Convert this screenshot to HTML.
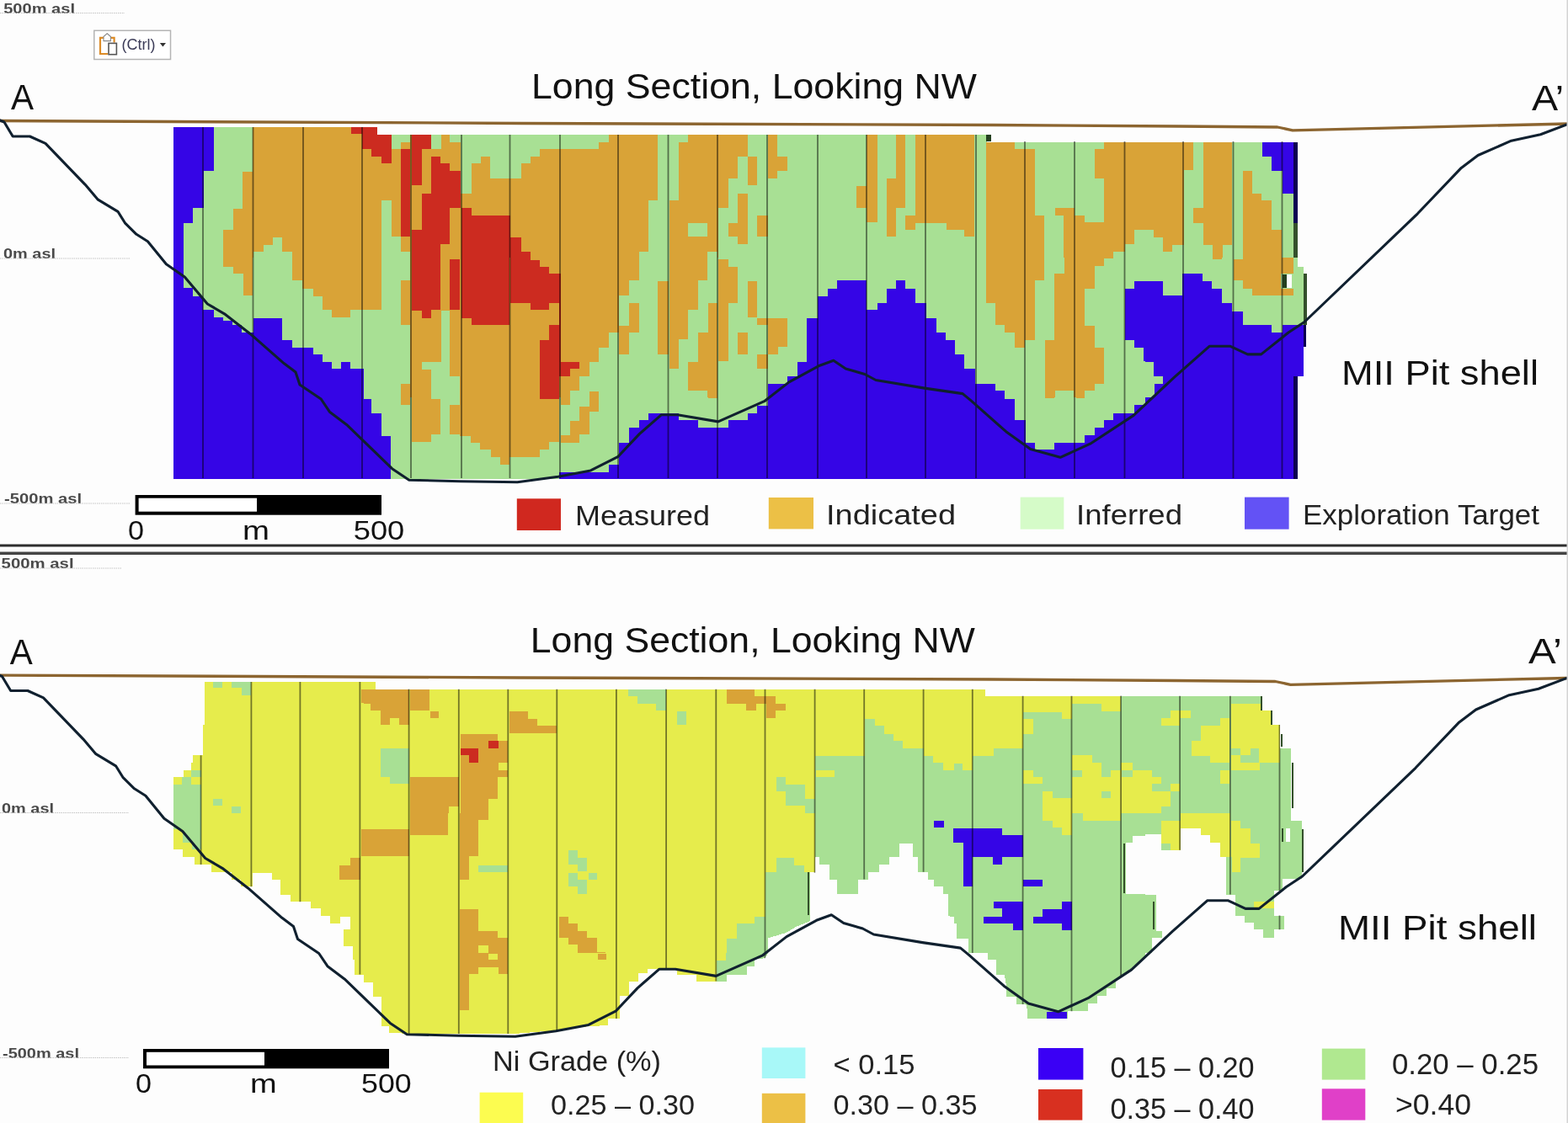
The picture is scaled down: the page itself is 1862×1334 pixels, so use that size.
<!DOCTYPE html>
<html><head><meta charset="utf-8"><title>Long Section, Looking NW</title>
<style>html,body{margin:0;padding:0;background:#fdfdfd;width:1862px;height:1334px;overflow:hidden;position:relative}</style>
</head><body>
<svg width="1862" height="1334" viewBox="0 0 1862 1334" style="position:absolute;left:0;top:0;font-family:'Liberation Sans', Arial, sans-serif"><g id="topmodel" shape-rendering="crispEdges">
<rect x="206" y="151" width="241" height="417.6" fill="#a8e094"/>
<rect x="447" y="160" width="725" height="408.6" fill="#a8e094"/>
<rect x="1172" y="168.6" width="369.3" height="400" fill="#a8e094"/>
<polygon points="206.2,151.2 253.6,151.2 253.6,202.9 241.7,202.9 241.7,247.2 229.3,247.2 229.3,264.6 218.1,264.6 218.1,306 206.2,306" fill="#3505e6"/>
<polygon points="300.3,151.2 432,151.2 432,306 347,306 347,298.9 335.2,298.9 335.2,282 324,282 324,290.8 312.8,290.8 312.8,298.9 300.9,298.9 300.9,306 265.4,306 265.4,273.3 276.6,273.3 276.6,247.8 287.8,247.8 287.8,203.5 300.3,203.5" fill="#d9a337"/>
<polygon points="417.4,151.2 432,151.2 432,177.4 429.9,177.4 429.9,158.7 417.4,158.7" fill="#cc2b20"/>
<polygon points="432,151.2 447.6,151.2 447.6,159.9 664,159.9 664,306 432,306" fill="#d9a337"/>
<polygon points="465,159.9 487.4,159.9 487.4,168.7 476.2,168.7 476.2,176.8 465,176.8" fill="#a8e094"/>
<polygon points="512.4,159.9 523.6,159.9 523.6,176.8 512.4,176.8" fill="#a8e094"/>
<polygon points="534.2,159.9 546.6,159.9 546.6,168.7 534.2,168.7" fill="#a8e094"/>
<polygon points="546.6,159.9 664,159.9 664,176.8 641.3,176.8 641.3,185.5 630.1,185.5 630.1,194.2 618.9,194.2 618.9,212.3 582.1,212.3 582.1,185.5 570.9,185.5 570.9,194.2 559.7,194.2 559.7,229.7 546.6,229.7" fill="#a8e094"/>
<polygon points="453.2,238.4 465,238.4 465,281.4 476.2,281.4 476.2,298.9 487.4,298.9 487.4,306 453.2,306" fill="#a8e094"/>
<polygon points="432,151.2 447.6,151.2 447.6,159.9 465,159.9 465,194.2 453.2,194.2 453.2,185.5 441.3,185.5 441.3,177.4 432,177.4" fill="#cc2b20"/>
<polygon points="476.2,176.8 487.4,176.8 487.4,281.4 476.2,281.4" fill="#cc2b20"/>
<polygon points="488.7,159.9 511.7,159.9 511.7,176.8 500.5,176.8 500.5,220.4 488.7,220.4" fill="#cc2b20"/>
<polygon points="512.4,185.5 523,185.5 523,194.2 534.2,194.2 534.2,202.9 546.6,202.9 546.6,247.2 534.2,247.2 534.2,290.1 523,290.1 523,306 488.7,306 488.7,272.7 500.5,272.7 500.5,229.7 512.4,229.7" fill="#cc2b20"/>
<polygon points="547.9,247.2 559.7,247.2 559.7,255.9 605.8,255.9 605.8,282 618.9,282 618.9,298.9 630.1,298.9 630.1,306 547.9,306" fill="#cc2b20"/>
<polygon points="664,159.9 896,159.9 896,306 664,306" fill="#d9a337"/>
<polygon points="664,159.9 722.6,159.9 722.6,168.7 711.3,168.7 711.3,176.8 664,176.8" fill="#a8e094"/>
<polygon points="781.1,159.9 817.3,159.9 817.3,168.7 806,168.7 806,238.4 794.8,238.4 794.8,306 758.7,306 758.7,298.9 769.9,298.9 769.9,238.4 781.1,238.4" fill="#a8e094"/>
<polygon points="817.3,264.6 840.3,264.6 840.3,281.4 817.3,281.4" fill="#a8e094"/>
<polygon points="840.3,298.9 852.1,298.9 852.1,306 840.3,306" fill="#a8e094"/>
<polygon points="888.3,159.9 896,159.9 896,185.5 888.3,185.5" fill="#a8e094"/>
<polygon points="876.4,185.5 888.3,185.5 888.3,220.4 896,220.4 896,306 853.4,306 853.4,247.2 864.6,247.2 864.6,212.3 876.4,212.3" fill="#a8e094"/>
<polygon points="876.4,229.7 888.3,229.7 888.3,290.1 876.4,290.1" fill="#d9a337"/>
<polygon points="864.6,264.6 876.4,264.6 876.4,281.4 864.6,281.4" fill="#d9a337"/>
<polygon points="896,185.5 898.5,185.5 898.5,220.4 896,220.4" fill="#d9a337"/>
<polygon points="912.2,159.9 923.4,159.9 923.4,185.5 934.6,185.5 934.6,202.9 923.4,202.9 923.4,212.3 912.2,212.3" fill="#d9a337"/>
<polygon points="898.5,255.9 911.6,255.9 911.6,281.4 898.5,281.4" fill="#d9a337"/>
<polygon points="1016.9,221 1028.7,221 1028.7,159.9 1041.8,159.9 1041.8,264 1028.7,264 1028.7,247.2 1016.9,247.2" fill="#d9a337"/>
<polygon points="1064.2,159.9 1074.8,159.9 1074.8,247.2 1064.2,247.2 1064.2,281.4 1053,281.4 1053,212.3 1064.2,212.3" fill="#d9a337"/>
<polygon points="1087.3,159.9 1128,159.9 1128,272.7 1124,272.7 1124,264.6 1087.3,264.6 1087.3,272.7 1075.4,272.7 1075.4,255.9 1087.3,255.9" fill="#d9a337"/>
<polygon points="1128,159.9 1157.3,159.9 1157.3,281.4 1145.4,281.4 1145.4,272.7 1128,272.7" fill="#d9a337"/>
<polygon points="1171,168.7 1204.6,168.7 1204.6,177.4 1228.9,177.4 1228.9,255.9 1240.1,255.9 1240.1,306 1171,306" fill="#d9a337"/>
<polygon points="1252.6,247.2 1276.3,247.2 1276.3,255.9 1288.1,255.9 1288.1,264 1310.5,264 1310.5,212.3 1299.9,212.3 1299.9,177.4 1310.5,177.4 1310.5,168.7 1360,168.7 1360,272.7 1347.3,272.7 1347.3,290.1 1335.5,290.1 1335.5,298.9 1322.4,298.9 1322.4,306 1263.2,306 1263.2,255.9 1252.6,255.9" fill="#d9a337"/>
<polygon points="1171,159.9 1177.2,159.9 1177.2,168 1171,168" fill="#24401f"/>
<polygon points="1360,168.7 1417.3,168.7 1417.3,202.3 1406.1,202.3 1406.1,290.8 1392.4,290.8 1392.4,298.9 1381.2,298.9 1381.2,282 1370,282 1370,272.7 1360,272.7" fill="#d9a337"/>
<polygon points="1428.5,168.7 1463.4,168.7 1463.4,290.8 1451.6,290.8 1451.6,306 1439.7,306 1439.7,290.8 1428.5,290.8 1428.5,264.6 1417.3,264.6 1417.3,247.2 1428.5,247.2" fill="#d9a337"/>
<polygon points="1475.9,202.9 1487.1,202.9 1487.1,229.7 1498.3,229.7 1498.3,238.4 1510.1,238.4 1510.1,272.7 1522,272.7 1522,306 1475.9,306" fill="#d9a337"/>
<polygon points="1498.9,168.7 1535.7,168.7 1535.7,229.7 1522.6,229.7 1522.6,202.9 1510.1,202.9 1510.1,185.5 1498.9,185.5" fill="#3505e6"/>
<polygon points="1535.7,168.7 1541.3,168.7 1541.3,264.6 1535.7,264.6" fill="#0c0052"/>
<polygon points="1535.7,264.6 1540.7,264.6 1540.7,306 1535.7,306" fill="#34502c"/>
<polygon points="265.4,306 299.7,306 299.7,350.9 288.5,350.9 288.5,325.3 276.6,325.3 276.6,316.6 265.4,316.6" fill="#d9a337"/>
<polygon points="347,306 432,306 432,368.3 416.2,368.3 416.2,377 394.4,377 394.4,368.3 383.2,368.3 383.2,351.5 371.9,351.5 371.9,343.4 358.9,343.4 358.9,333.4 347,333.4" fill="#d9a337"/>
<polygon points="206.2,306 218.1,306 218.1,342.1 229.3,342.1 229.3,351.5 241.1,351.5 241.1,368.3 253.6,368.3 253.6,377 264.8,377 264.8,380.8 276,380.8 276,385.7 287.2,385.7 287.2,394.5 300.9,394.5 300.9,377.6 335.2,377.6 335.2,403.8 347,403.8 347,412.5 371.9,412.5 371.9,421.3 383.2,421.3 383.2,430 394.4,430 394.4,438.1 405,438.1 405,430 416.2,430 416.2,438.1 432,438.1 432,472 206.2,472" fill="#3505e6"/>
<polygon points="432,306 664,306 664,472 432,472" fill="#d9a337"/>
<polygon points="453.2,306 487.4,306 487.4,333.4 476.2,333.4 476.2,386.4 487.4,386.4 487.4,455.5 476.2,455.5 476.2,472 432,472 432,368.3 453.2,368.3" fill="#a8e094"/>
<polygon points="523.6,368.9 534.2,368.9 534.2,446.8 546,446.8 546,472 512.4,472 512.4,438.7 500.5,438.7 500.5,430 523.6,430" fill="#a8e094"/>
<polygon points="488.7,306 523,306 523,368.3 511.7,368.3 511.7,377.6 500.5,377.6 500.5,368.9 488.7,368.9" fill="#cc2b20"/>
<polygon points="534.2,307.9 546,307.9 546,368.3 534.2,368.3" fill="#cc2b20"/>
<polygon points="547.9,306 605.2,306 605.2,386.4 559.7,386.4 559.7,378.3 547.9,378.3" fill="#cc2b20"/>
<polygon points="606.4,306 630.1,306 630.1,308.5 641.3,308.5 641.3,316.6 651.9,316.6 651.9,324.7 664,324.7 664,360.2 651.9,360.2 651.9,368.3 630.1,368.3 630.1,360.2 606.4,360.2" fill="#cc2b20"/>
<polygon points="651.9,386.4 664,386.4 664,472 641.3,472 641.3,403.8 651.9,403.8" fill="#cc2b20"/>
<polygon points="664,306 734.6,306 734.6,395.1 722.6,395.1 722.6,412.5 711.3,412.5 711.3,430 699.5,430 699.5,446.8 688.3,446.8 688.3,464.2 677.1,464.2 677.1,472 664,472" fill="#d9a337"/>
<polygon points="699.5,464.9 711.3,464.9 711.3,472 699.5,472" fill="#d9a337"/>
<polygon points="734.6,306 758.7,306 758.7,332.8 746.9,332.8 746.9,350.9 734.6,350.9" fill="#d9a337"/>
<polygon points="746.9,359.6 758.7,359.6 758.7,395.1 746.9,395.1 746.9,420.6 734.6,420.6 734.6,387 746.9,387" fill="#d9a337"/>
<polygon points="781.1,334 793.6,334 793.6,420.6 781.1,420.6" fill="#d9a337"/>
<polygon points="794.8,306 839.7,306 839.7,332.8 828.5,332.8 828.5,368.3 817.3,368.3 817.3,403.2 806,403.2 806,438.1 794.8,438.1" fill="#d9a337"/>
<polygon points="840.9,359.6 851.5,359.6 851.5,472 840.3,472 840.3,464.2 817.3,464.2 817.3,430 828.5,430 828.5,395.1 840.9,395.1" fill="#d9a337"/>
<polygon points="853.4,307.9 864.6,307.9 864.6,316.6 876.4,316.6 876.4,359.6 864.6,359.6 864.6,429.3 853.4,429.3" fill="#d9a337"/>
<polygon points="888.3,334 896,334 896,377 888.3,377" fill="#d9a337"/>
<polygon points="876.4,395.1 887.6,395.1 887.6,420.6 876.4,420.6" fill="#d9a337"/>
<polygon points="664,324.7 665.9,324.7 665.9,446.8 664,446.8" fill="#cc2b20"/>
<polygon points="665.9,430 688.3,430 688.3,438.1 677.1,438.1 677.1,446.8 665.9,446.8" fill="#cc2b20"/>
<polygon points="896,334 898.5,334 898.5,377 896,377" fill="#d9a337"/>
<polygon points="898.5,378.3 934.6,378.3 934.6,411.9 924,411.9 924,420.6 912.2,420.6 912.2,386.4 898.5,386.4" fill="#d9a337"/>
<polygon points="898.5,421.3 911.6,421.3 911.6,438.1 898.5,438.1" fill="#d9a337"/>
<polygon points="911.6,456.1 935.2,456.1 935.2,447.4 946.5,447.4 946.5,430 958.3,430 958.3,378.3 970.8,378.3 970.8,351.5 982.6,351.5 982.6,342.8 994.4,342.8 994.4,333.4 1029.3,333.4 1029.3,368.3 1041.8,368.3 1041.8,359.6 1053,359.6 1053,342.8 1064.2,342.8 1064.2,333.4 1075.4,333.4 1075.4,342.8 1086.6,342.8 1086.6,359.6 1099.7,359.6 1099.7,378.3 1111.5,378.3 1111.5,395.1 1123.4,395.1 1123.4,403.8 1128,403.8 1128,472 911.6,472" fill="#3505e6"/>
<polygon points="1171,306 1240.1,306 1240.1,332.8 1228.9,332.8 1228.9,403.8 1217.1,403.8 1217.1,412.5 1204.6,412.5 1204.6,395.1 1193.4,395.1 1193.4,386.4 1182.2,386.4 1182.2,359.6 1171,359.6" fill="#d9a337"/>
<polygon points="1263.8,306 1321.7,306 1321.7,307.2 1310.5,307.2 1310.5,316 1299.9,316 1299.9,342.8 1288.1,342.8 1288.1,387 1299.9,387 1299.9,412.5 1310.5,412.5 1310.5,455.5 1299.9,455.5 1299.9,464.2 1288.1,464.2 1288.1,472 1275,472 1275,464.2 1252.6,464.2 1252.6,472 1240.8,472 1240.8,403.8 1252,403.8 1252,325.3 1263.8,325.3" fill="#d9a337"/>
<polygon points="1128,403.8 1134.2,403.8 1134.2,421.3 1145.4,421.3 1145.4,438.1 1157.9,438.1 1157.9,455.5 1181.6,455.5 1181.6,464.2 1192.8,464.2 1192.8,472 1128,472" fill="#3505e6"/>
<polygon points="1335.5,343.4 1347.3,343.4 1347.3,334 1360,334 1360,429.3 1357.9,429.3 1357.9,412.5 1347.3,412.5 1347.3,403.8 1335.5,403.8" fill="#3505e6"/>
<polygon points="1535.7,316.6 1547.5,316.6 1547.5,386.4 1535.7,386.4" fill="#a8e094"/>
<polygon points="1439.7,306 1451,306 1451,307.9 1439.7,307.9" fill="#d9a337"/>
<polygon points="1475.9,306 1535.7,306 1535.7,324.7 1520.7,324.7 1520.7,342.8 1535.7,342.8 1535.7,350.9 1487.1,350.9 1487.1,342.8 1475.9,342.8 1475.9,332.8 1464.7,332.8 1464.7,307.9 1475.9,307.9" fill="#d9a337"/>
<polygon points="1527.6,325.9 1534.4,325.9 1534.4,342.1 1527.6,342.1" fill="#fdfdfd"/>
<polygon points="1523.2,325.9 1527.6,325.9 1527.6,342.1 1523.2,342.1" fill="#24401f"/>
<polygon points="1360,334 1381.2,334 1381.2,350.9 1404.2,350.9 1404.2,325.3 1427.9,325.3 1427.9,334 1439.1,334 1439.1,342.8 1451,342.8 1451,359.6 1463.4,359.6 1463.4,369.5 1475.9,369.5 1475.9,386.4 1510.1,386.4 1510.1,395.1 1522.6,395.1 1522.6,386.4 1548.1,386.4 1548.1,446.8 1540.7,446.8 1540.7,472 1370.6,472 1370.6,456.1 1381.2,456.1 1381.2,446.8 1370,446.8 1370,430 1360,430" fill="#3505e6"/>
<polygon points="1547.5,324.7 1551.9,324.7 1551.9,385.7 1547.5,385.7" fill="#34502c"/>
<polygon points="1547.5,385.7 1550.6,385.7 1550.6,411.9 1547.5,411.9" fill="#0c0052"/>
<polygon points="1535.7,446.8 1540.7,446.8 1540.7,472 1535.7,472" fill="#0c0052"/>
<polygon points="206.2,472 432,472 432,568.6 206.2,568.6" fill="#3505e6"/>
<polygon points="432,473.9 441.3,473.9 441.3,490.7 452.6,490.7 452.6,517.5 464.4,517.5 464.4,568.6 432,568.6" fill="#3505e6"/>
<polygon points="476.2,472 486.8,472 486.8,481.3 476.2,481.3" fill="#d9a337"/>
<polygon points="488.7,472 511.7,472 511.7,473.9 523,473.9 523,515.6 511.7,515.6 511.7,525 488.7,525" fill="#d9a337"/>
<polygon points="534.2,481.3 546,481.3 546,472 664,472 664,525 651.9,525 651.9,534.3 640.7,534.3 640.7,543 605.2,543 605.2,551.7 594,551.7 594,543 582.8,543 582.8,534.3 570.3,534.3 570.3,525.6 559.1,525.6 559.1,517.5 546,517.5 546,515.6 534.2,515.6" fill="#d9a337"/>
<polygon points="641.3,472 664,472 664,473.9 641.3,473.9" fill="#cc2b20"/>
<polygon points="665.9,472 677.1,472 677.1,481.3 665.9,481.3" fill="#d9a337"/>
<polygon points="700.1,472 710.7,472 710.7,489.4 699.5,489.4 699.5,516.2 688.3,516.2 688.3,525.6 665.9,525.6 665.9,516.9 677.1,516.9 677.1,500 688.3,500 688.3,482.6 700.1,482.6" fill="#d9a337"/>
<polygon points="840.9,472 851.5,472 851.5,473.2 840.9,473.2" fill="#d9a337"/>
<polygon points="664,560.5 722.6,560.5 722.6,551.7 735,551.7 735,525.6 746.9,525.6 746.9,508.1 758.7,508.1 758.7,499.4 769.9,499.4 769.9,490.7 806,490.7 806,499.4 828.5,499.4 828.5,508.1 864.6,508.1 864.6,499.4 888.3,499.4 888.3,490.7 896,490.7 896,568.6 664,568.6" fill="#3505e6"/>
<polygon points="912.2,472 1128,472 1128,568.6 896,568.6 896,490.7 898.5,490.7 898.5,482 912.2,482" fill="#3505e6"/>
<polygon points="1240.8,472 1252,472 1252,473.2 1240.8,473.2" fill="#d9a337"/>
<polygon points="1277.5,472 1288.1,472 1288.1,473.2 1277.5,473.2" fill="#d9a337"/>
<polygon points="1128,472 1193.4,472 1193.4,473.9 1204.6,473.9 1204.6,498.8 1217.7,498.8 1217.7,525.6 1228.9,525.6 1228.9,533.7 1252,533.7 1252,525.6 1288.1,525.6 1288.1,516.9 1299.9,516.9 1299.9,508.1 1310.5,508.1 1310.5,499.4 1321.7,499.4 1321.7,490.7 1347.3,490.7 1347.3,481.3 1360,481.3 1360,568.6 1128,568.6" fill="#3505e6"/>
<polygon points="1360,472 1535.7,472 1535.7,568.6 1360,568.6" fill="#3505e6"/>
<polygon points="1535.7,472 1541.3,472 1541.3,568.6 1535.7,568.6" fill="#0c0052"/>
</g>
<line x1="241" y1="151" x2="241" y2="568" stroke="#000" stroke-opacity="0.5" stroke-width="1.8"/>
<line x1="300.5" y1="151" x2="300.5" y2="568" stroke="#000" stroke-opacity="0.5" stroke-width="1.8"/>
<line x1="360" y1="151" x2="360" y2="568" stroke="#000" stroke-opacity="0.5" stroke-width="1.8"/>
<line x1="430" y1="151" x2="430" y2="568" stroke="#000" stroke-opacity="0.5" stroke-width="1.8"/>
<line x1="488" y1="160" x2="488" y2="568" stroke="#000" stroke-opacity="0.5" stroke-width="1.8"/>
<line x1="548" y1="160" x2="548" y2="568" stroke="#000" stroke-opacity="0.5" stroke-width="1.8"/>
<line x1="605.5" y1="160" x2="605.5" y2="568" stroke="#000" stroke-opacity="0.5" stroke-width="1.8"/>
<line x1="665" y1="160" x2="665" y2="568" stroke="#000" stroke-opacity="0.5" stroke-width="1.8"/>
<line x1="734" y1="160" x2="734" y2="568" stroke="#000" stroke-opacity="0.5" stroke-width="1.8"/>
<line x1="793.5" y1="160" x2="793.5" y2="568" stroke="#000" stroke-opacity="0.5" stroke-width="1.8"/>
<line x1="852" y1="160" x2="852" y2="568" stroke="#000" stroke-opacity="0.5" stroke-width="1.8"/>
<line x1="911" y1="160" x2="911" y2="568" stroke="#000" stroke-opacity="0.5" stroke-width="1.8"/>
<line x1="971" y1="160" x2="971" y2="568" stroke="#000" stroke-opacity="0.5" stroke-width="1.8"/>
<line x1="1029" y1="160" x2="1029" y2="568" stroke="#000" stroke-opacity="0.5" stroke-width="1.8"/>
<line x1="1099" y1="160" x2="1099" y2="568" stroke="#000" stroke-opacity="0.5" stroke-width="1.8"/>
<line x1="1159" y1="160" x2="1159" y2="568" stroke="#000" stroke-opacity="0.5" stroke-width="1.8"/>
<line x1="1217" y1="168" x2="1217" y2="568" stroke="#000" stroke-opacity="0.5" stroke-width="1.8"/>
<line x1="1276" y1="168" x2="1276" y2="568" stroke="#000" stroke-opacity="0.5" stroke-width="1.8"/>
<line x1="1335.5" y1="168" x2="1335.5" y2="568" stroke="#000" stroke-opacity="0.5" stroke-width="1.8"/>
<line x1="1405" y1="168" x2="1405" y2="568" stroke="#000" stroke-opacity="0.5" stroke-width="1.8"/>
<line x1="1464.5" y1="168" x2="1464.5" y2="568" stroke="#000" stroke-opacity="0.5" stroke-width="1.8"/>
<line x1="1522.5" y1="168" x2="1522.5" y2="568" stroke="#000" stroke-opacity="0.5" stroke-width="1.8"/>
<g id="botmodel" shape-rendering="crispEdges">
<polygon points="243,810 432,810 432,966 206.2,966 206.2,923.3 218.1,923.3 218.1,914.6 227.4,914.6 227.4,905.9 229.3,905.9 229.3,897.2 240.5,897.2 240.5,861.1 243,861.1" fill="#e6ec4c"/>
<polygon points="253,810 263.5,810 263.5,817.4 253,817.4" fill="#a8e094"/>
<polygon points="274.8,810 298.4,810 298.4,826.2 286.6,826.2 286.6,817.4 274.8,817.4" fill="#a8e094"/>
<polygon points="227.4,914.6 238.6,914.6 238.6,923.3 227.4,923.3" fill="#a8e094"/>
<polygon points="216.2,923.3 227.4,923.3 227.4,932.1 216.2,932.1" fill="#a8e094"/>
<polygon points="206.2,932.1 238.6,932.1 238.6,966 206.2,966" fill="#a8e094"/>
<polygon points="253,948.9 263.5,948.9 263.5,957 253,957" fill="#a8e094"/>
<polygon points="274.8,958.2 286,958.2 286,966 274.8,966" fill="#a8e094"/>
<polygon points="429.3,818.7 432,818.7 432,834.9 429.3,834.9" fill="#d9a337"/>
<polygon points="432,810 445.7,810 445.7,818.7 664,818.7 664,966 432,966" fill="#e6ec4c"/>
<polygon points="432,818.7 485.6,818.7 485.6,861.1 474.4,861.1 474.4,853 462.5,853 462.5,861.1 451.9,861.1 451.9,844.2 440.1,844.2 440.1,836.1 432,836.1" fill="#d9a337"/>
<polygon points="486.8,818.7 509.9,818.7 509.9,844.2 486.8,844.2" fill="#d9a337"/>
<polygon points="510.5,844.9 520.5,844.9 520.5,853 510.5,853" fill="#d9a337"/>
<polygon points="487.4,923.3 544.8,923.3 544.8,957.6 532.9,957.6 532.9,966 487.4,966" fill="#d9a337"/>
<polygon points="546.6,871.6 590.9,871.6 590.9,880.4 602.7,880.4 602.7,905.9 592.1,905.9 592.1,914.6 602.7,914.6 602.7,922.7 590.9,922.7 590.9,948.9 579.6,948.9 579.6,966 546.6,966" fill="#d9a337"/>
<polygon points="604.6,844.9 627,844.9 627,853.6 638.2,853.6 638.2,862.3 661.3,862.3 661.3,871 604.6,871" fill="#d9a337"/>
<polygon points="546.6,888.5 568.4,888.5 568.4,905.9 557.2,905.9 557.2,897.2 546.6,897.2" fill="#cc2b20"/>
<polygon points="579.6,879.7 591.5,879.7 591.5,888.5 579.6,888.5" fill="#cc2b20"/>
<polygon points="451.9,889.1 485.6,889.1 485.6,930.8 463.1,930.8 463.1,922.7 451.9,922.7" fill="#a8e094"/>
<polygon points="664,818.7 896,818.7 896,966 664,966" fill="#e6ec4c"/>
<polygon points="745.6,818.7 791.1,818.7 791.1,843.6 779.3,843.6 779.3,835.5 756.8,835.5 756.8,826.8 745.6,826.8" fill="#a8e094"/>
<polygon points="804.2,844.9 814.8,844.9 814.8,861.1 804.2,861.1" fill="#a8e094"/>
<polygon points="862.7,818.7 896,818.7 896,843.6 885.8,843.6 885.8,835.5 862.7,835.5" fill="#d9a337"/>
<polygon points="896,818.7 1128,818.7 1128,966 896,966" fill="#e6ec4c"/>
<polygon points="896,827.4 920.9,827.4 920.9,836.1 932.8,836.1 932.8,844.2 920.9,844.2 920.9,853 909.7,853 909.7,836.1 897.9,836.1 897.9,843.6 896,843.6" fill="#d9a337"/>
<polygon points="968.3,897.8 1026.8,897.8 1026.8,853.6 1038.7,853.6 1038.7,862.3 1049.9,862.3 1049.9,871.6 1061.1,871.6 1061.1,880.4 1072.3,880.4 1072.3,889.1 1096.6,889.1 1096.6,897.8 1108.4,897.8 1108.4,905.9 1120.3,905.9 1120.3,914.6 1128,914.6 1128,966 955.8,966 955.8,957 932.8,957 932.8,939.5 922.2,939.5 922.2,923.3 932.8,923.3 932.8,932.1 955.8,932.1 955.8,948.9 968.3,948.9" fill="#a8e094"/>
<polygon points="968.9,914.6 991.3,914.6 991.3,922.7 968.9,922.7" fill="#e6ec4c"/>
<polygon points="1128,818.7 1170.4,818.7 1170.4,826.8 1360,826.8 1360,966 1128,966" fill="#e6ec4c"/>
<polygon points="1128,914.6 1155.4,914.6 1155.4,897.8 1179.7,897.8 1179.7,889.1 1214.6,889.1 1214.6,845.5 1260.7,845.5 1260.7,853.6 1272.5,853.6 1272.5,836.1 1308,836.1 1308,844.9 1330.5,844.9 1330.5,826.8 1360,826.8 1360,914.6 1344.8,914.6 1344.8,905.9 1330.5,905.9 1330.5,914.6 1318.6,914.6 1318.6,922.7 1308,922.7 1308,905.9 1297.4,905.9 1297.4,897.2 1272.5,897.2 1272.5,948.3 1249.5,948.3 1249.5,940.2 1237.6,940.2 1237.6,966 1128,966" fill="#a8e094"/>
<polygon points="1133,906.5 1143,906.5 1143,914.6 1133,914.6" fill="#a8e094"/>
<polygon points="1215.2,853.6 1227.1,853.6 1227.1,871.6 1215.2,871.6" fill="#e6ec4c"/>
<polygon points="1215.2,914.6 1227.1,914.6 1227.1,922.7 1237.6,922.7 1237.6,931.4 1215.2,931.4" fill="#e6ec4c"/>
<polygon points="1272.5,914.6 1285,914.6 1285,922.7 1272.5,922.7" fill="#a8e094"/>
<polygon points="1332.3,914.6 1344.8,914.6 1344.8,922.7 1332.3,922.7" fill="#a8e094"/>
<polygon points="1308,940.2 1318.6,940.2 1318.6,948.3 1308,948.3" fill="#a8e094"/>
<polygon points="1360,826.8 1497.7,826.8 1497.7,843.6 1508.9,843.6 1508.9,861.1 1520.1,861.1 1520.1,888.5 1533.2,888.5 1533.2,966 1360,966" fill="#a8e094"/>
<polygon points="1389.9,844.2 1414.2,844.2 1414.2,853 1401.1,853 1401.1,861.7 1379.3,861.7 1379.3,853 1389.9,853" fill="#e6ec4c"/>
<polygon points="1462.2,835.5 1497.7,835.5 1497.7,843.6 1508.9,843.6 1508.9,861.1 1519.5,861.1 1519.5,905.9 1495.8,905.9 1495.8,914.6 1462.2,914.6" fill="#e6ec4c"/>
<polygon points="1462.2,889.1 1472.8,889.1 1472.8,897.2 1462.2,897.2" fill="#a8e094"/>
<polygon points="1484.6,889.1 1495.2,889.1 1495.2,905.9 1473.4,905.9 1473.4,897.2 1484.6,897.2" fill="#a8e094"/>
<polygon points="1426,861.7 1449.1,861.7 1449.1,853 1460.3,853 1460.3,905.9 1437.2,905.9 1437.2,897.8 1414.8,897.8 1414.8,880.4 1426,880.4" fill="#e6ec4c"/>
<polygon points="1448.5,914.6 1460.3,914.6 1460.3,931.4 1448.5,931.4" fill="#e6ec4c"/>
<polygon points="1360,914.6 1367.5,914.6 1367.5,966 1360,966" fill="#e6ec4c"/>
<polygon points="1367.5,923.3 1378.7,923.3 1378.7,931.4 1367.5,931.4" fill="#e6ec4c"/>
<polygon points="1367.5,940.2 1389.9,940.2 1389.9,957.6 1378.7,957.6 1378.7,966 1367.5,966" fill="#e6ec4c"/>
<polygon points="1389.9,931.4 1401.1,931.4 1401.1,940.2 1389.9,940.2" fill="#e6ec4c"/>
<polygon points="1497.3,826.8 1499.3,826.8 1499.3,843.6 1497.3,843.6" fill="#33502a"/>
<polygon points="1508.8,843.6 1510.8,843.6 1510.8,861.1 1508.8,861.1" fill="#33502a"/>
<polygon points="1521,871.6 1523,871.6 1523,887.2 1521,887.2" fill="#33502a"/>
<polygon points="1534.4,905.9 1536.4,905.9 1536.4,959.5 1534.4,959.5" fill="#33502a"/>
<polygon points="206.2,966 432,966 432,1132 418.7,1132 418.7,1123.6 408.1,1123.6 408.1,1104.3 416.2,1104.3 416.2,1088.7 404.3,1088.7 404.3,1096.8 391.9,1096.8 391.9,1088.1 380.7,1088.1 380.7,1079.4 369.4,1079.4 369.4,1071.3 344.5,1071.3 344.5,1062.6 333.3,1062.6 333.3,1045.1 323.3,1045.1 323.3,1037 299.7,1037 299.7,1053.2 286,1053.2 286,1044.5 274.8,1044.5 274.8,1036.4 251.1,1036.4 251.1,1027.1 231.1,1027.1 231.1,1018.3 217.4,1018.3 217.4,1009 206.2,1009" fill="#e6ec4c"/>
<polygon points="206.2,966 238.6,966 238.6,1009 228,1009 228,1000.9 216.8,1000.9 216.8,984.7 206.2,984.7" fill="#a8e094"/>
<polygon points="429.3,984.7 432,984.7 432,1017.1 429.3,1017.1" fill="#d9a337"/>
<polygon points="403.1,1028.3 416.2,1028.3 416.2,1019 428,1019 428,1044.5 403.1,1044.5" fill="#d9a337"/>
<polygon points="432,966 664,966 664,1132 432,1132" fill="#e6ec4c"/>
<polygon points="432,984.7 485.6,984.7 485.6,1017.1 432,1017.1" fill="#d9a337"/>
<polygon points="486.8,966 531.7,966 531.7,991.5 486.8,991.5" fill="#d9a337"/>
<polygon points="546,966 579.6,966 579.6,974.1 567.8,974.1 567.8,1017.1 556.6,1017.1 556.6,1044.5 546,1044.5" fill="#d9a337"/>
<polygon points="546,1080 567.8,1080 567.8,1105.5 590.9,1105.5 590.9,1114.3 602.7,1114.3 602.7,1132 580.3,1132 580.3,1123 567.8,1123 567.8,1132 546,1132" fill="#d9a337"/>
<polygon points="568.4,1027.7 602.7,1027.7 602.7,1035.8 568.4,1035.8" fill="#a8e094"/>
<polygon points="664,966 896,966 896,1132 664,1132" fill="#e6ec4c"/>
<polygon points="675.2,1010.2 685.8,1010.2 685.8,1019 697,1019 697,1034.5 685.8,1034.5 685.8,1027.1 675.2,1027.1" fill="#a8e094"/>
<polygon points="675.2,1037 685.8,1037 685.8,1045.1 697,1045.1 697,1061.9 685.8,1061.9 685.8,1053.2 675.2,1053.2" fill="#a8e094"/>
<polygon points="698.9,1037 708.9,1037 708.9,1045.1 698.9,1045.1" fill="#a8e094"/>
<polygon points="875.2,1096.8 896,1096.8 896,1132 862.7,1132 862.7,1114.9 875.2,1114.9" fill="#a8e094"/>
<polygon points="664,1088.7 674.6,1088.7 674.6,1096.8 685.8,1096.8 685.8,1105.5 697,1105.5 697,1114.3 708.9,1114.3 708.9,1130.5 718.8,1130.5 718.8,1132 686.4,1132 686.4,1122.4 675.2,1122.4 675.2,1114.3 664,1114.3" fill="#d9a337"/>
<polygon points="896,966 1128,966 1128,1087.5 1125.9,1087.5 1125.9,1061.9 1120.3,1061.9 1120.3,1053.2 1109.1,1053.2 1109.1,1044.5 1101.6,1044.5 1101.6,1035.8 1090.4,1035.8 1090.4,1017.7 1083.5,1017.7 1083.5,1001.5 1067.9,1001.5 1067.9,1017.7 1055.5,1017.7 1055.5,1027.1 1044.3,1027.1 1044.3,1035.8 1030.6,1035.8 1030.6,1044.5 1019.3,1044.5 1019.3,1061.9 994.4,1061.9 994.4,1044.5 984.5,1044.5 984.5,1027.1 973.2,1027.1 973.2,1018.3 968.3,1018.3 968.3,1036.4 962,1036.4 962,1094.3 945.8,1100.6 933.4,1108 912.2,1114.3 912.2,1132 896,1132" fill="#a8e094"/>
<polygon points="896,966 968.3,966 968.3,1036.4 955.2,1036.4 955.2,1027.7 943.3,1027.7 943.3,1019 922.2,1019 922.2,1036.4 908.5,1036.4 908.5,1088.7 896,1088.7" fill="#e6ec4c"/>
<polygon points="1109.1,975.3 1120.9,975.3 1120.9,983.4 1109.1,983.4" fill="#3505e6"/>
<polygon points="958.5,1036.4 960.5,1036.4 960.5,1086.9 958.5,1086.9" fill="#33502a"/>
<polygon points="1128,966 1360,966 1360,992.8 1344.8,992.8 1344.8,1000.9 1337.3,1000.9 1337.3,1061.9 1360,1061.9 1360,1132 1149.8,1132 1149.8,1114.9 1136.1,1114.9 1136.1,1096.8 1133,1096.8 1133,1088.7 1128,1088.7" fill="#a8e094"/>
<polygon points="1237.6,966 1272.5,966 1272.5,992.2 1260.7,992.2 1260.7,983.4 1249.5,983.4 1249.5,974.7 1237.6,974.7" fill="#e6ec4c"/>
<polygon points="1285.6,966 1331.1,966 1331.1,974.7 1285.6,974.7" fill="#e6ec4c"/>
<polygon points="1132.4,984.1 1190.3,984.1 1190.3,992.2 1214.6,992.2 1214.6,1017.7 1190.3,1017.7 1190.3,1027.1 1179.1,1027.1 1179.1,1018.3 1155.4,1018.3 1155.4,1053.2 1143.6,1053.2 1143.6,1000.9 1132.4,1000.9" fill="#3505e6"/>
<polygon points="1215.2,1045.1 1237.6,1045.1 1237.6,1053.2 1215.2,1053.2" fill="#3505e6"/>
<polygon points="1179.7,1071.3 1214.6,1071.3 1214.6,1104.9 1202.8,1104.9 1202.8,1096.8 1167.9,1096.8 1167.9,1088.7 1190.3,1088.7 1190.3,1079.4 1179.7,1079.4" fill="#3505e6"/>
<polygon points="1261.3,1071.3 1273.2,1071.3 1273.2,1104.9 1261.3,1104.9 1261.3,1096.8 1227.1,1096.8 1227.1,1088.7 1238.3,1088.7 1238.3,1080 1261.3,1080" fill="#3505e6"/>
<polygon points="1333.5,1002.1 1335.5,1002.1 1335.5,1061.3 1333.5,1061.3" fill="#33502a"/>
<polygon points="1360,966 1533.2,966 1533.2,974.7 1545.6,974.7 1545.6,1043.9 1523.2,1043.9 1523.2,1058.2 1512.6,1058.2 1512.6,1087.5 1524.5,1087.5 1524.5,1104.3 1513.3,1104.3 1513.3,1114.3 1500.2,1114.3 1500.2,1104.3 1489,1104.3 1489,1096.2 1477.7,1096.2 1477.7,1087.5 1467.2,1087.5 1467.2,1062.6 1455.9,1062.6 1455.9,1018.3 1448.5,1018.3 1448.5,1000.9 1437.2,1000.9 1437.2,992.2 1426,992.2 1426,984.1 1402.4,984.1 1402.4,1009.6 1378.7,1009.6 1378.7,990.9 1360,990.9" fill="#a8e094"/>
<polygon points="1360,1063.2 1372.5,1063.2 1372.5,1105.5 1379.9,1105.5 1379.9,1114.3 1367.5,1114.3 1367.5,1132 1360,1132" fill="#a8e094"/>
<polygon points="1378.7,975.3 1402.4,975.3 1402.4,1009.6 1389.9,1009.6 1389.9,1002.1 1378.7,1002.1" fill="#e6ec4c"/>
<polygon points="1402.4,966 1460.9,966 1460.9,1018.3 1448.5,1018.3 1448.5,1000.9 1437.2,1000.9 1437.2,992.2 1426,992.2 1426,984.1 1402.4,984.1" fill="#e6ec4c"/>
<polygon points="1462.2,975.3 1473.4,975.3 1473.4,984.1 1484.6,984.1 1484.6,1001.5 1495.8,1001.5 1495.8,1019 1473.4,1019 1473.4,1035.8 1463.4,1035.8 1463.4,1018.3 1462.2,1018.3" fill="#e6ec4c"/>
<polygon points="1489,1071.3 1512.6,1071.3 1512.6,1079.4 1489,1079.4" fill="#e6ec4c"/>
<polygon points="1527,984.1 1531.9,984.1 1531.9,1000.3 1527,1000.3" fill="#fdfdfd"/>
<polygon points="1521.9,984.1 1523.9,984.1 1523.9,999.6 1521.9,999.6" fill="#33502a"/>
<polygon points="1545.6,984.7 1547.6,984.7 1547.6,1035.8 1545.6,1035.8" fill="#33502a"/>
<polygon points="1369,1071.3 1371,1071.3 1371,1104.3 1369,1104.3" fill="#33502a"/>
<polygon points="418.7,1132 432,1132 432,1157.5 421.2,1157.5 421.2,1139.5 418.7,1139.5" fill="#e6ec4c"/>
<polygon points="432,1132 664,1132 664,1223.6 612.7,1227.9 484.3,1227.9 461.9,1226.7 461.9,1219.2 452.6,1219.2 452.6,1184.3 443.2,1184.3 443.2,1166.9 432,1166.9" fill="#e6ec4c"/>
<polygon points="546,1132 602.7,1132 602.7,1156.9 592.1,1156.9 592.1,1149.4 567.8,1149.4 567.8,1156.9 556.6,1156.9 556.6,1199.9 546,1199.9" fill="#d9a337"/>
<polygon points="580.3,1133.2 590.9,1133.2 590.9,1140.1 580.3,1140.1" fill="#e6ec4c"/>
<polygon points="664,1132 862.1,1132 862.1,1140.7 850.9,1140.7 850.9,1165.6 826.6,1165.6 826.6,1158.2 804.2,1158.2 804.2,1150.7 769.3,1150.7 769.3,1155.7 758.1,1155.7 758.1,1165.6 746.9,1165.6 746.9,1183.1 735.6,1183.1 735.6,1209.9 721.9,1209.9 721.9,1218 698.9,1219.2 664,1223" fill="#e6ec4c"/>
<polygon points="850.9,1140.7 862.1,1140.7 862.1,1132 896,1132 896,1148.2 887,1148.2 887,1158.2 863.4,1158.2 863.4,1165.6 850.9,1165.6" fill="#a8e094"/>
<polygon points="709.5,1133.2 720.1,1133.2 720.1,1139.5 709.5,1139.5" fill="#d9a337"/>
<polygon points="896,1132 912.2,1132 908.5,1138.2 896,1139.5" fill="#a8e094"/>
<polygon points="1172.9,1132 1360,1132 1360,1137 1348.5,1145.7 1334.8,1156.9 1324.9,1164.4 1324.9,1174.4 1314.3,1174.4 1314.3,1183.1 1303.1,1183.1 1303.1,1191.8 1291.8,1191.8 1291.8,1201.2 1267.5,1201.2 1267.5,1209.9 1220.2,1209.9 1220.2,1201.2 1218.3,1193.1 1207.1,1193.1 1207.1,1184.3 1195.3,1184.3 1195.3,1173.1 1192.8,1158.2 1182.8,1158.2 1182.8,1139.5 1172.9,1139.5" fill="#a8e094"/>
<polygon points="1242.6,1201.8 1266.9,1201.8 1266.9,1209.9 1242.6,1209.9" fill="#3505e6"/>
</g>
<clipPath id="botclip"><polygon points="243,810 432,810 432,966 206.2,966 206.2,923.3 218.1,923.3 218.1,914.6 227.4,914.6 227.4,905.9 229.3,905.9 229.3,897.2 240.5,897.2 240.5,861.1 243,861.1"/><polygon points="253,810 263.5,810 263.5,817.4 253,817.4"/><polygon points="274.8,810 298.4,810 298.4,826.2 286.6,826.2 286.6,817.4 274.8,817.4"/><polygon points="227.4,914.6 238.6,914.6 238.6,923.3 227.4,923.3"/><polygon points="216.2,923.3 227.4,923.3 227.4,932.1 216.2,932.1"/><polygon points="206.2,932.1 238.6,932.1 238.6,966 206.2,966"/><polygon points="253,948.9 263.5,948.9 263.5,957 253,957"/><polygon points="274.8,958.2 286,958.2 286,966 274.8,966"/><polygon points="429.3,818.7 432,818.7 432,834.9 429.3,834.9"/><polygon points="432,810 445.7,810 445.7,818.7 664,818.7 664,966 432,966"/><polygon points="432,818.7 485.6,818.7 485.6,861.1 474.4,861.1 474.4,853 462.5,853 462.5,861.1 451.9,861.1 451.9,844.2 440.1,844.2 440.1,836.1 432,836.1"/><polygon points="486.8,818.7 509.9,818.7 509.9,844.2 486.8,844.2"/><polygon points="510.5,844.9 520.5,844.9 520.5,853 510.5,853"/><polygon points="487.4,923.3 544.8,923.3 544.8,957.6 532.9,957.6 532.9,966 487.4,966"/><polygon points="546.6,871.6 590.9,871.6 590.9,880.4 602.7,880.4 602.7,905.9 592.1,905.9 592.1,914.6 602.7,914.6 602.7,922.7 590.9,922.7 590.9,948.9 579.6,948.9 579.6,966 546.6,966"/><polygon points="604.6,844.9 627,844.9 627,853.6 638.2,853.6 638.2,862.3 661.3,862.3 661.3,871 604.6,871"/><polygon points="546.6,888.5 568.4,888.5 568.4,905.9 557.2,905.9 557.2,897.2 546.6,897.2"/><polygon points="579.6,879.7 591.5,879.7 591.5,888.5 579.6,888.5"/><polygon points="451.9,889.1 485.6,889.1 485.6,930.8 463.1,930.8 463.1,922.7 451.9,922.7"/><polygon points="664,818.7 896,818.7 896,966 664,966"/><polygon points="745.6,818.7 791.1,818.7 791.1,843.6 779.3,843.6 779.3,835.5 756.8,835.5 756.8,826.8 745.6,826.8"/><polygon points="804.2,844.9 814.8,844.9 814.8,861.1 804.2,861.1"/><polygon points="862.7,818.7 896,818.7 896,843.6 885.8,843.6 885.8,835.5 862.7,835.5"/><polygon points="896,818.7 1128,818.7 1128,966 896,966"/><polygon points="896,827.4 920.9,827.4 920.9,836.1 932.8,836.1 932.8,844.2 920.9,844.2 920.9,853 909.7,853 909.7,836.1 897.9,836.1 897.9,843.6 896,843.6"/><polygon points="968.3,897.8 1026.8,897.8 1026.8,853.6 1038.7,853.6 1038.7,862.3 1049.9,862.3 1049.9,871.6 1061.1,871.6 1061.1,880.4 1072.3,880.4 1072.3,889.1 1096.6,889.1 1096.6,897.8 1108.4,897.8 1108.4,905.9 1120.3,905.9 1120.3,914.6 1128,914.6 1128,966 955.8,966 955.8,957 932.8,957 932.8,939.5 922.2,939.5 922.2,923.3 932.8,923.3 932.8,932.1 955.8,932.1 955.8,948.9 968.3,948.9"/><polygon points="968.9,914.6 991.3,914.6 991.3,922.7 968.9,922.7"/><polygon points="1128,818.7 1170.4,818.7 1170.4,826.8 1360,826.8 1360,966 1128,966"/><polygon points="1128,914.6 1155.4,914.6 1155.4,897.8 1179.7,897.8 1179.7,889.1 1214.6,889.1 1214.6,845.5 1260.7,845.5 1260.7,853.6 1272.5,853.6 1272.5,836.1 1308,836.1 1308,844.9 1330.5,844.9 1330.5,826.8 1360,826.8 1360,914.6 1344.8,914.6 1344.8,905.9 1330.5,905.9 1330.5,914.6 1318.6,914.6 1318.6,922.7 1308,922.7 1308,905.9 1297.4,905.9 1297.4,897.2 1272.5,897.2 1272.5,948.3 1249.5,948.3 1249.5,940.2 1237.6,940.2 1237.6,966 1128,966"/><polygon points="1133,906.5 1143,906.5 1143,914.6 1133,914.6"/><polygon points="1215.2,853.6 1227.1,853.6 1227.1,871.6 1215.2,871.6"/><polygon points="1215.2,914.6 1227.1,914.6 1227.1,922.7 1237.6,922.7 1237.6,931.4 1215.2,931.4"/><polygon points="1272.5,914.6 1285,914.6 1285,922.7 1272.5,922.7"/><polygon points="1332.3,914.6 1344.8,914.6 1344.8,922.7 1332.3,922.7"/><polygon points="1308,940.2 1318.6,940.2 1318.6,948.3 1308,948.3"/><polygon points="1360,826.8 1497.7,826.8 1497.7,843.6 1508.9,843.6 1508.9,861.1 1520.1,861.1 1520.1,888.5 1533.2,888.5 1533.2,966 1360,966"/><polygon points="1389.9,844.2 1414.2,844.2 1414.2,853 1401.1,853 1401.1,861.7 1379.3,861.7 1379.3,853 1389.9,853"/><polygon points="1462.2,835.5 1497.7,835.5 1497.7,843.6 1508.9,843.6 1508.9,861.1 1519.5,861.1 1519.5,905.9 1495.8,905.9 1495.8,914.6 1462.2,914.6"/><polygon points="1462.2,889.1 1472.8,889.1 1472.8,897.2 1462.2,897.2"/><polygon points="1484.6,889.1 1495.2,889.1 1495.2,905.9 1473.4,905.9 1473.4,897.2 1484.6,897.2"/><polygon points="1426,861.7 1449.1,861.7 1449.1,853 1460.3,853 1460.3,905.9 1437.2,905.9 1437.2,897.8 1414.8,897.8 1414.8,880.4 1426,880.4"/><polygon points="1448.5,914.6 1460.3,914.6 1460.3,931.4 1448.5,931.4"/><polygon points="1360,914.6 1367.5,914.6 1367.5,966 1360,966"/><polygon points="1367.5,923.3 1378.7,923.3 1378.7,931.4 1367.5,931.4"/><polygon points="1367.5,940.2 1389.9,940.2 1389.9,957.6 1378.7,957.6 1378.7,966 1367.5,966"/><polygon points="1389.9,931.4 1401.1,931.4 1401.1,940.2 1389.9,940.2"/><polygon points="206.2,966 432,966 432,1132 418.7,1132 418.7,1123.6 408.1,1123.6 408.1,1104.3 416.2,1104.3 416.2,1088.7 404.3,1088.7 404.3,1096.8 391.9,1096.8 391.9,1088.1 380.7,1088.1 380.7,1079.4 369.4,1079.4 369.4,1071.3 344.5,1071.3 344.5,1062.6 333.3,1062.6 333.3,1045.1 323.3,1045.1 323.3,1037 299.7,1037 299.7,1053.2 286,1053.2 286,1044.5 274.8,1044.5 274.8,1036.4 251.1,1036.4 251.1,1027.1 231.1,1027.1 231.1,1018.3 217.4,1018.3 217.4,1009 206.2,1009"/><polygon points="206.2,966 238.6,966 238.6,1009 228,1009 228,1000.9 216.8,1000.9 216.8,984.7 206.2,984.7"/><polygon points="429.3,984.7 432,984.7 432,1017.1 429.3,1017.1"/><polygon points="403.1,1028.3 416.2,1028.3 416.2,1019 428,1019 428,1044.5 403.1,1044.5"/><polygon points="432,966 664,966 664,1132 432,1132"/><polygon points="432,984.7 485.6,984.7 485.6,1017.1 432,1017.1"/><polygon points="486.8,966 531.7,966 531.7,991.5 486.8,991.5"/><polygon points="546,966 579.6,966 579.6,974.1 567.8,974.1 567.8,1017.1 556.6,1017.1 556.6,1044.5 546,1044.5"/><polygon points="546,1080 567.8,1080 567.8,1105.5 590.9,1105.5 590.9,1114.3 602.7,1114.3 602.7,1132 580.3,1132 580.3,1123 567.8,1123 567.8,1132 546,1132"/><polygon points="568.4,1027.7 602.7,1027.7 602.7,1035.8 568.4,1035.8"/><polygon points="664,966 896,966 896,1132 664,1132"/><polygon points="675.2,1010.2 685.8,1010.2 685.8,1019 697,1019 697,1034.5 685.8,1034.5 685.8,1027.1 675.2,1027.1"/><polygon points="675.2,1037 685.8,1037 685.8,1045.1 697,1045.1 697,1061.9 685.8,1061.9 685.8,1053.2 675.2,1053.2"/><polygon points="698.9,1037 708.9,1037 708.9,1045.1 698.9,1045.1"/><polygon points="875.2,1096.8 896,1096.8 896,1132 862.7,1132 862.7,1114.9 875.2,1114.9"/><polygon points="664,1088.7 674.6,1088.7 674.6,1096.8 685.8,1096.8 685.8,1105.5 697,1105.5 697,1114.3 708.9,1114.3 708.9,1130.5 718.8,1130.5 718.8,1132 686.4,1132 686.4,1122.4 675.2,1122.4 675.2,1114.3 664,1114.3"/><polygon points="896,966 1128,966 1128,1087.5 1125.9,1087.5 1125.9,1061.9 1120.3,1061.9 1120.3,1053.2 1109.1,1053.2 1109.1,1044.5 1101.6,1044.5 1101.6,1035.8 1090.4,1035.8 1090.4,1017.7 1083.5,1017.7 1083.5,1001.5 1067.9,1001.5 1067.9,1017.7 1055.5,1017.7 1055.5,1027.1 1044.3,1027.1 1044.3,1035.8 1030.6,1035.8 1030.6,1044.5 1019.3,1044.5 1019.3,1061.9 994.4,1061.9 994.4,1044.5 984.5,1044.5 984.5,1027.1 973.2,1027.1 973.2,1018.3 968.3,1018.3 968.3,1036.4 962,1036.4 962,1094.3 945.8,1100.6 933.4,1108 912.2,1114.3 912.2,1132 896,1132"/><polygon points="896,966 968.3,966 968.3,1036.4 955.2,1036.4 955.2,1027.7 943.3,1027.7 943.3,1019 922.2,1019 922.2,1036.4 908.5,1036.4 908.5,1088.7 896,1088.7"/><polygon points="1109.1,975.3 1120.9,975.3 1120.9,983.4 1109.1,983.4"/><polygon points="1128,966 1360,966 1360,992.8 1344.8,992.8 1344.8,1000.9 1337.3,1000.9 1337.3,1061.9 1360,1061.9 1360,1132 1149.8,1132 1149.8,1114.9 1136.1,1114.9 1136.1,1096.8 1133,1096.8 1133,1088.7 1128,1088.7"/><polygon points="1237.6,966 1272.5,966 1272.5,992.2 1260.7,992.2 1260.7,983.4 1249.5,983.4 1249.5,974.7 1237.6,974.7"/><polygon points="1285.6,966 1331.1,966 1331.1,974.7 1285.6,974.7"/><polygon points="1132.4,984.1 1190.3,984.1 1190.3,992.2 1214.6,992.2 1214.6,1017.7 1190.3,1017.7 1190.3,1027.1 1179.1,1027.1 1179.1,1018.3 1155.4,1018.3 1155.4,1053.2 1143.6,1053.2 1143.6,1000.9 1132.4,1000.9"/><polygon points="1215.2,1045.1 1237.6,1045.1 1237.6,1053.2 1215.2,1053.2"/><polygon points="1179.7,1071.3 1214.6,1071.3 1214.6,1104.9 1202.8,1104.9 1202.8,1096.8 1167.9,1096.8 1167.9,1088.7 1190.3,1088.7 1190.3,1079.4 1179.7,1079.4"/><polygon points="1261.3,1071.3 1273.2,1071.3 1273.2,1104.9 1261.3,1104.9 1261.3,1096.8 1227.1,1096.8 1227.1,1088.7 1238.3,1088.7 1238.3,1080 1261.3,1080"/><polygon points="1360,966 1533.2,966 1533.2,974.7 1545.6,974.7 1545.6,1043.9 1523.2,1043.9 1523.2,1058.2 1512.6,1058.2 1512.6,1087.5 1524.5,1087.5 1524.5,1104.3 1513.3,1104.3 1513.3,1114.3 1500.2,1114.3 1500.2,1104.3 1489,1104.3 1489,1096.2 1477.7,1096.2 1477.7,1087.5 1467.2,1087.5 1467.2,1062.6 1455.9,1062.6 1455.9,1018.3 1448.5,1018.3 1448.5,1000.9 1437.2,1000.9 1437.2,992.2 1426,992.2 1426,984.1 1402.4,984.1 1402.4,1009.6 1378.7,1009.6 1378.7,990.9 1360,990.9"/><polygon points="1360,1063.2 1372.5,1063.2 1372.5,1105.5 1379.9,1105.5 1379.9,1114.3 1367.5,1114.3 1367.5,1132 1360,1132"/><polygon points="1378.7,975.3 1402.4,975.3 1402.4,1009.6 1389.9,1009.6 1389.9,1002.1 1378.7,1002.1"/><polygon points="1402.4,966 1460.9,966 1460.9,1018.3 1448.5,1018.3 1448.5,1000.9 1437.2,1000.9 1437.2,992.2 1426,992.2 1426,984.1 1402.4,984.1"/><polygon points="1462.2,975.3 1473.4,975.3 1473.4,984.1 1484.6,984.1 1484.6,1001.5 1495.8,1001.5 1495.8,1019 1473.4,1019 1473.4,1035.8 1463.4,1035.8 1463.4,1018.3 1462.2,1018.3"/><polygon points="1489,1071.3 1512.6,1071.3 1512.6,1079.4 1489,1079.4"/><polygon points="418.7,1132 432,1132 432,1157.5 421.2,1157.5 421.2,1139.5 418.7,1139.5"/><polygon points="432,1132 664,1132 664,1223.6 612.7,1227.9 484.3,1227.9 461.9,1226.7 461.9,1219.2 452.6,1219.2 452.6,1184.3 443.2,1184.3 443.2,1166.9 432,1166.9"/><polygon points="546,1132 602.7,1132 602.7,1156.9 592.1,1156.9 592.1,1149.4 567.8,1149.4 567.8,1156.9 556.6,1156.9 556.6,1199.9 546,1199.9"/><polygon points="580.3,1133.2 590.9,1133.2 590.9,1140.1 580.3,1140.1"/><polygon points="664,1132 862.1,1132 862.1,1140.7 850.9,1140.7 850.9,1165.6 826.6,1165.6 826.6,1158.2 804.2,1158.2 804.2,1150.7 769.3,1150.7 769.3,1155.7 758.1,1155.7 758.1,1165.6 746.9,1165.6 746.9,1183.1 735.6,1183.1 735.6,1209.9 721.9,1209.9 721.9,1218 698.9,1219.2 664,1223"/><polygon points="850.9,1140.7 862.1,1140.7 862.1,1132 896,1132 896,1148.2 887,1148.2 887,1158.2 863.4,1158.2 863.4,1165.6 850.9,1165.6"/><polygon points="709.5,1133.2 720.1,1133.2 720.1,1139.5 709.5,1139.5"/><polygon points="896,1132 912.2,1132 908.5,1138.2 896,1139.5"/><polygon points="1172.9,1132 1360,1132 1360,1137 1348.5,1145.7 1334.8,1156.9 1324.9,1164.4 1324.9,1174.4 1314.3,1174.4 1314.3,1183.1 1303.1,1183.1 1303.1,1191.8 1291.8,1191.8 1291.8,1201.2 1267.5,1201.2 1267.5,1209.9 1220.2,1209.9 1220.2,1201.2 1218.3,1193.1 1207.1,1193.1 1207.1,1184.3 1195.3,1184.3 1195.3,1173.1 1192.8,1158.2 1182.8,1158.2 1182.8,1139.5 1172.9,1139.5"/><polygon points="1242.6,1201.8 1266.9,1201.8 1266.9,1209.9 1242.6,1209.9"/></clipPath>
<g clip-path="url(#botclip)">
<line x1="238.6" y1="805" x2="238.6" y2="1235" stroke="#000" stroke-opacity="0.5" stroke-width="1.8"/>
<line x1="298.4" y1="805" x2="298.4" y2="1235" stroke="#000" stroke-opacity="0.5" stroke-width="1.8"/>
<line x1="356.4" y1="805" x2="356.4" y2="1235" stroke="#000" stroke-opacity="0.5" stroke-width="1.8"/>
<line x1="427.4" y1="805" x2="427.4" y2="1235" stroke="#000" stroke-opacity="0.5" stroke-width="1.8"/>
<line x1="485.6" y1="805" x2="485.6" y2="1235" stroke="#000" stroke-opacity="0.5" stroke-width="1.8"/>
<line x1="544.8" y1="805" x2="544.8" y2="1235" stroke="#000" stroke-opacity="0.5" stroke-width="1.8"/>
<line x1="603.3" y1="805" x2="603.3" y2="1235" stroke="#000" stroke-opacity="0.5" stroke-width="1.8"/>
<line x1="661.3" y1="805" x2="661.3" y2="1235" stroke="#000" stroke-opacity="0.5" stroke-width="1.8"/>
<line x1="731.9" y1="805" x2="731.9" y2="1235" stroke="#000" stroke-opacity="0.5" stroke-width="1.8"/>
<line x1="791.1" y1="805" x2="791.1" y2="1235" stroke="#000" stroke-opacity="0.5" stroke-width="1.8"/>
<line x1="850.3" y1="805" x2="850.3" y2="1235" stroke="#000" stroke-opacity="0.5" stroke-width="1.8"/>
<line x1="908.5" y1="805" x2="908.5" y2="1235" stroke="#000" stroke-opacity="0.5" stroke-width="1.8"/>
<line x1="967.6" y1="805" x2="967.6" y2="1235" stroke="#000" stroke-opacity="0.5" stroke-width="1.8"/>
<line x1="1026.2" y1="805" x2="1026.2" y2="1235" stroke="#000" stroke-opacity="0.5" stroke-width="1.8"/>
<line x1="1096.6" y1="805" x2="1096.6" y2="1235" stroke="#000" stroke-opacity="0.5" stroke-width="1.8"/>
<line x1="1154.8" y1="805" x2="1154.8" y2="1235" stroke="#000" stroke-opacity="0.5" stroke-width="1.8"/>
<line x1="1214.6" y1="805" x2="1214.6" y2="1235" stroke="#000" stroke-opacity="0.5" stroke-width="1.8"/>
<line x1="1272.5" y1="805" x2="1272.5" y2="1235" stroke="#000" stroke-opacity="0.5" stroke-width="1.8"/>
<line x1="1331.1" y1="805" x2="1331.1" y2="1235" stroke="#000" stroke-opacity="0.5" stroke-width="1.8"/>
<line x1="1401.1" y1="805" x2="1401.1" y2="1235" stroke="#000" stroke-opacity="0.5" stroke-width="1.8"/>
<line x1="1460.9" y1="805" x2="1460.9" y2="1235" stroke="#000" stroke-opacity="0.5" stroke-width="1.8"/>
<line x1="1519.5" y1="805" x2="1519.5" y2="1235" stroke="#000" stroke-opacity="0.5" stroke-width="1.8"/>
</g>
<polyline points="-5,143.5 620,146.5 1180,148.5 1400,150 1517,151 1535,154.8 1862,147 1870,146.8" fill="none" stroke="#8c6530" stroke-width="3.3" stroke-linejoin="round"/>
<polyline points="-5,141 5,145 15.2,162 35.4,162 54,170.4 101.2,219.3 116.4,237.2 140,251.3 148.4,264.8 162,278.3 175.4,286.8 197.4,313.8 219.3,329 246.3,361 266.5,372.8 297,396.4 337.4,431.8 351,442 356,457 381.2,474 391.4,489.2 411.6,504.4 465.6,556.7 485.8,570.2 546.7,571.7 614.4,572.7 662.7,566.3 701.4,558.9 733.6,542.7 759.4,515.4 785.2,492.8 804.5,492.8 852.8,500.9 907.6,476.7 936.6,454.1 972,434.8 989.8,428.3 1004.3,438 1026.9,444.5 1040,451.5 1098,461.1 1143.1,467.6 1152.8,475.6 1194.7,512.7 1223.7,533.6 1259.1,543.3 1294.6,527.2 1346.2,493.4 1394.5,448.2 1436.4,411.2 1460.6,411.2 1481.5,420.9 1497.6,420.9 1530,395 1549,382.5 1683.4,253.8 1735.3,199.4 1755.1,184.5 1794.7,167.2 1829.4,159.8 1862,147.4 1870,145" fill="none" stroke="#10202f" stroke-width="3.1" stroke-linejoin="round"/>
<g transform="translate(-2.5,658.5)">
<polyline points="-5,143.5 620,146.5 1180,148.5 1400,150 1517,151 1535,154.8 1862,147 1870,146.8" fill="none" stroke="#8c6530" stroke-width="3.3" stroke-linejoin="round"/>
<polyline points="-5,141 5,145 15.2,162 35.4,162 54,170.4 101.2,219.3 116.4,237.2 140,251.3 148.4,264.8 162,278.3 175.4,286.8 197.4,313.8 219.3,329 246.3,361 266.5,372.8 297,396.4 337.4,431.8 351,442 356,457 381.2,474 391.4,489.2 411.6,504.4 465.6,556.7 485.8,570.2 546.7,571.7 614.4,572.7 662.7,566.3 701.4,558.9 733.6,542.7 759.4,515.4 785.2,492.8 804.5,492.8 852.8,500.9 907.6,476.7 936.6,454.1 972,434.8 989.8,428.3 1004.3,438 1026.9,444.5 1040,451.5 1098,461.1 1143.1,467.6 1152.8,475.6 1194.7,512.7 1223.7,533.6 1259.1,543.3 1294.6,527.2 1346.2,493.4 1394.5,448.2 1436.4,411.2 1460.6,411.2 1481.5,420.9 1497.6,420.9 1530,395 1549,382.5 1683.4,253.8 1735.3,199.4 1755.1,184.5 1794.7,167.2 1829.4,159.8 1862,147.4 1870,145" fill="none" stroke="#10202f" stroke-width="3.1" stroke-linejoin="round"/>
</g>
<text x="4.2" y="15.6" font-size="17" fill="#4a4a4a" textLength="84.8" lengthAdjust="spacingAndGlyphs" font-weight="bold">500m asl</text>
<line x1="0" y1="15.5" x2="148" y2="15.5" stroke="#c4c4c4" stroke-width="1" stroke-dasharray="1.5,1"/>
<text x="4" y="307" font-size="17" fill="#4a4a4a" textLength="62" lengthAdjust="spacingAndGlyphs" font-weight="bold">0m asl</text>
<line x1="0" y1="307" x2="155" y2="307" stroke="#c4c4c4" stroke-width="1" stroke-dasharray="1.5,1"/>
<text x="5" y="598" font-size="17" fill="#4a4a4a" textLength="92" lengthAdjust="spacingAndGlyphs" font-weight="bold">-500m asl</text>
<line x1="0" y1="598" x2="155" y2="598" stroke="#c4c4c4" stroke-width="1" stroke-dasharray="1.5,1"/>
<rect x="111.8" y="36.3" width="90.7" height="34.2" fill="#ffffff" stroke="#b4b4b4" stroke-width="1.5"/>
<path d="M130,44.9 L119,44.9 L119,64 L128,64 M131.5,44.9 L135.6,44.9 L135.6,50.5" fill="none" stroke="#dc8c28" stroke-width="2.2"/>
<path d="M123,48.6 L123,43.6 L127.2,39.8 L131.5,43.6 L131.5,48.6 Z" fill="#fff" stroke="#8a8a8a" stroke-width="1.1"/>
<rect x="129" y="51.4" width="9.4" height="13.3" fill="#fff" stroke="#555" stroke-width="1.6"/>
<text x="144.5" y="59" font-size="19" fill="#3c3c58" textLength="40" lengthAdjust="spacingAndGlyphs">(Ctrl)</text>
<path d="M189.8,51 L197,51 L193.4,55.6 Z" fill="#333"/>
<text x="13" y="130" font-size="42" fill="#111" textLength="27" lengthAdjust="spacingAndGlyphs">A</text>
<text x="631" y="116.6" font-size="42" fill="#111" textLength="529" lengthAdjust="spacingAndGlyphs">Long Section, Looking NW</text>
<text x="1819" y="131" font-size="42" fill="#111" textLength="38" lengthAdjust="spacingAndGlyphs">A’</text>
<text x="1593" y="457" font-size="40.5" fill="#111" textLength="234" lengthAdjust="spacingAndGlyphs">MII Pit shell</text>
<rect x="160.6" y="588" width="292.4" height="23.7" fill="#000"/>
<rect x="164.6" y="591.7" width="140.4" height="16" fill="#fff"/>
<text x="152" y="640.5" font-size="31.5" fill="#111" textLength="19" lengthAdjust="spacingAndGlyphs">0</text>
<text x="288" y="640.5" font-size="31.5" fill="#111" textLength="32" lengthAdjust="spacingAndGlyphs">m</text>
<text x="419.7" y="640.5" font-size="31.5" fill="#111" textLength="60.6" lengthAdjust="spacingAndGlyphs">500</text>
<rect x="613.8" y="592.3" width="52.2" height="37.7" fill="#d0281f"/>
<text x="683" y="624" font-size="33" fill="#222" textLength="160" lengthAdjust="spacingAndGlyphs">Measured</text>
<rect x="912.8" y="591" width="53.2" height="37.4" fill="#ecc046"/>
<text x="981" y="623" font-size="33" fill="#222" textLength="154" lengthAdjust="spacingAndGlyphs">Indicated</text>
<rect x="1211.7" y="590.6" width="51.6" height="38.1" fill="#d5fbc8"/>
<text x="1278" y="622.6" font-size="33" fill="#222" textLength="126" lengthAdjust="spacingAndGlyphs">Inferred</text>
<rect x="1478" y="590.6" width="52.6" height="38.1" fill="#6352f5"/>
<text x="1547" y="622.6" font-size="33" fill="#222" textLength="281" lengthAdjust="spacingAndGlyphs">Exploration Target</text>
<rect x="0" y="646.5" width="1862" height="3" fill="#2e2e2e"/>
<rect x="0" y="655.5" width="1862" height="3.5" fill="#444"/>
<text x="1.6" y="675" font-size="17" fill="#4a4a4a" textLength="86" lengthAdjust="spacingAndGlyphs" font-weight="bold">500m asl</text>
<line x1="0" y1="675" x2="145" y2="675" stroke="#c4c4c4" stroke-width="1" stroke-dasharray="1.5,1"/>
<text x="2" y="965.5" font-size="17" fill="#4a4a4a" textLength="62" lengthAdjust="spacingAndGlyphs" font-weight="bold">0m asl</text>
<line x1="0" y1="965.5" x2="153" y2="965.5" stroke="#c4c4c4" stroke-width="1" stroke-dasharray="1.5,1"/>
<text x="3" y="1256.7" font-size="17" fill="#4a4a4a" textLength="91" lengthAdjust="spacingAndGlyphs" font-weight="bold">-500m asl</text>
<line x1="0" y1="1256.5" x2="153" y2="1256.5" stroke="#c4c4c4" stroke-width="1" stroke-dasharray="1.5,1"/>
<text x="11.7" y="789.3" font-size="42" fill="#111" textLength="27" lengthAdjust="spacingAndGlyphs">A</text>
<text x="629.8" y="775.4" font-size="42" fill="#111" textLength="528" lengthAdjust="spacingAndGlyphs">Long Section, Looking NW</text>
<text x="1815" y="788" font-size="42" fill="#111" textLength="40" lengthAdjust="spacingAndGlyphs">A’</text>
<text x="1589" y="1115.5" font-size="40.5" fill="#111" textLength="236" lengthAdjust="spacingAndGlyphs">MII Pit shell</text>
<rect x="170" y="1246" width="292" height="23.3" fill="#000"/>
<rect x="174" y="1249.8" width="140" height="15.7" fill="#fff"/>
<text x="161" y="1297.8" font-size="31.5" fill="#111" textLength="19" lengthAdjust="spacingAndGlyphs">0</text>
<text x="297" y="1297.8" font-size="31.5" fill="#111" textLength="31.7" lengthAdjust="spacingAndGlyphs">m</text>
<text x="429" y="1297.8" font-size="31.5" fill="#111" textLength="59.7" lengthAdjust="spacingAndGlyphs">500</text>
<text x="585" y="1272" font-size="33" fill="#222" textLength="200" lengthAdjust="spacingAndGlyphs">Ni Grade (%)</text>
<rect x="904.8" y="1244.4" width="51.6" height="36.6" fill="#a8f8f8"/>
<text x="989.5" y="1275.7" font-size="33" fill="#222" textLength="97" lengthAdjust="spacingAndGlyphs">&lt; 0.15</text>
<rect x="1233" y="1245" width="53.4" height="37.6" fill="#3a00f5"/>
<text x="1318.5" y="1280" font-size="34.5" fill="#222" textLength="171" lengthAdjust="spacingAndGlyphs">0.15 – 0.20</text>
<rect x="1569.8" y="1245.6" width="51.5" height="37" fill="#b0e890"/>
<text x="1653" y="1276.3" font-size="34.5" fill="#222" textLength="174" lengthAdjust="spacingAndGlyphs">0.20 – 0.25</text>
<rect x="569.6" y="1297.7" width="51.6" height="40" fill="#fcfc50"/>
<text x="654" y="1323.8" font-size="33" fill="#222" textLength="171" lengthAdjust="spacingAndGlyphs">0.25 – 0.30</text>
<rect x="904.8" y="1298.8" width="51.6" height="40" fill="#ecc046"/>
<text x="989.5" y="1323.8" font-size="33" fill="#222" textLength="171" lengthAdjust="spacingAndGlyphs">0.30 – 0.35</text>
<rect x="1233" y="1294" width="52.3" height="36.6" fill="#d83020"/>
<text x="1318.5" y="1328.6" font-size="34.5" fill="#222" textLength="171" lengthAdjust="spacingAndGlyphs">0.35 – 0.40</text>
<rect x="1569.8" y="1293.3" width="51.5" height="37.3" fill="#e040c8"/>
<text x="1657" y="1324.4" font-size="34.5" fill="#222" textLength="90" lengthAdjust="spacingAndGlyphs">&gt;0.40</text>
<rect x="1860.5" y="0" width="1.5" height="1334" fill="#d4d4d4"/></svg>
</body></html>
